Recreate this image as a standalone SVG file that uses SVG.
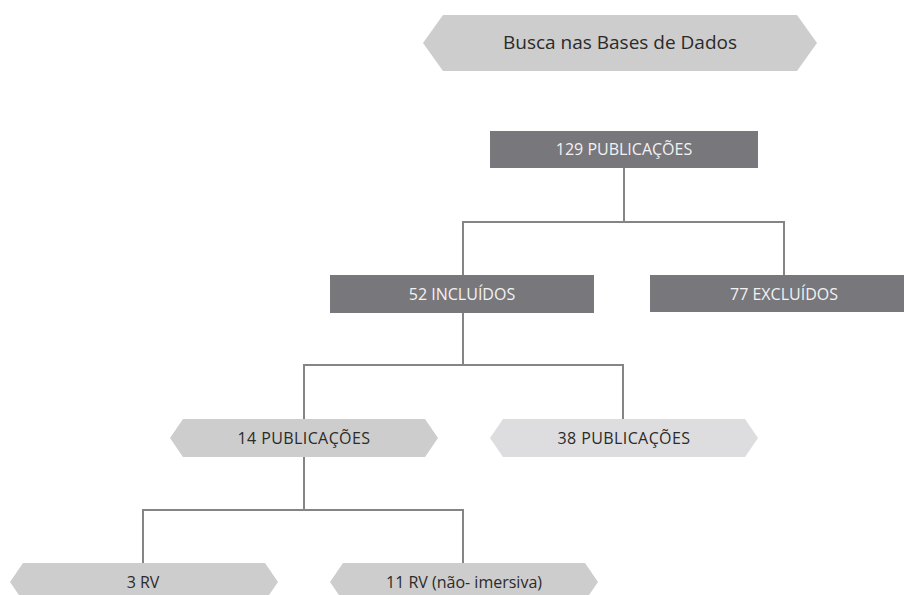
<svg xmlns="http://www.w3.org/2000/svg" width="904" height="595" viewBox="0 0 904 595">
  <style>
    .hex { fill: #cdcdcd; }
    .hex-light { fill: #dddddf; }
    .box { fill: #78777c; }
    .lbl { font-family: "Open Sans", "Noto Sans", "Liberation Sans", sans-serif; font-size: 16px; text-anchor: middle; }
    .dark { fill: #2b2a2a; }
    .light { fill: #f2f2f2; }
    .edge { fill: none; stroke: #858585; stroke-width: 2; }
  </style>
  <rect width="904" height="595" fill="#ffffff"/>

  <!-- connectors -->
  <g id="connectors">
    <path class="edge" d="M624 168 V222 M463 222 H784 M463 221 V275 M784 221 V275"/>
    <path class="edge" d="M463 313 V365 M304 365 H623 M304 364 V419 M623 364 V419"/>
    <path class="edge" d="M304 457 V510 M143 510 H463 M143 509 V563 M463 509 V563"/>
  </g>

  <!-- header -->
  <g id="busca">
    <polygon class="hex" points="423,43 443,15 797,15 817,43 797,71 443,71"/>
    <text class="lbl dark" x="620" y="49" style="font-size:19px">Busca nas Bases de Dados</text>
  </g>

  <g id="n129">
    <rect class="box" x="490" y="131" width="268" height="37"/>
    <text class="lbl light" x="624" y="155">129 PUBLICAÇÕES</text>
  </g>

  <g id="n52">
    <rect class="box" x="330" y="275" width="264" height="38"/>
    <text class="lbl light" x="462" y="300">52 INCLUÍDOS</text>
  </g>

  <g id="n77">
    <rect class="box" x="650" y="275" width="264" height="37"/>
    <text class="lbl light" x="784" y="300">77 EXCLUÍDOS</text>
  </g>

  <g id="n14">
    <polygon class="hex" points="170,438 183,419 425,419 438,438 425,457 183,457"/>
    <text class="lbl dark" x="304" y="444" letter-spacing="0.4">14 PUBLICAÇÕES</text>
  </g>

  <g id="n38">
    <polygon class="hex-light" points="490,438 503,419 745,419 758,438 745,457 503,457"/>
    <text class="lbl dark" x="624" y="444" letter-spacing="0.4">38 PUBLICAÇÕES</text>
  </g>

  <g id="n3">
    <polygon class="hex" points="10,582 23,563 265,563 278,582 265,601 23,601"/>
    <text class="lbl dark" x="143" y="588">3 RV</text>
  </g>

  <g id="n11">
    <polygon class="hex" points="330,582 343,563 585,563 598,582 585,601 343,601"/>
    <text class="lbl dark" x="464" y="588">11 RV (não- imersiva)</text>
  </g>
</svg>
